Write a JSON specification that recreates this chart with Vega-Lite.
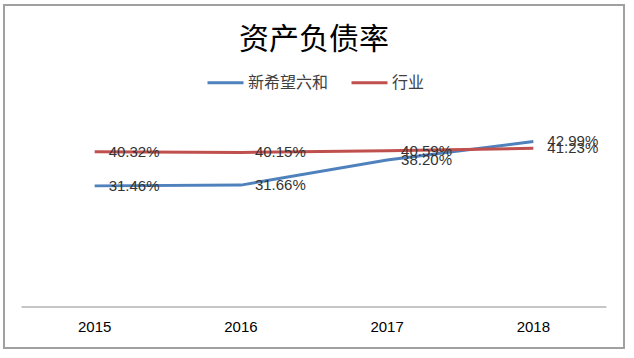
{
  "$schema": "https://vega.github.io/schema/vega-lite/v6.json",
  "autosize": "none",
  "width": 620,
  "height": 343,
  "padding": {"left": 4, "top": 5, "right": 10, "bottom": 10},
  "background": "white",
  "title": {"text": "资产负债率", "anchor": "middle", "frame": "group", "offset": -80, "baseline": "bottom", "font": "Noto Sans CJK SC", "fontSize": 30, "fontWeight": "normal", "color": "#000000"},
  "config": {"view": {"stroke": "#a0a0a0", "strokeWidth": 2}},
  "data": {"values": [
    {"year": "2015", "series": "新希望六和", "value": 0.3146},
    {"year": "2016", "series": "新希望六和", "value": 0.3166},
    {"year": "2017", "series": "新希望六和", "value": 0.3820},
    {"year": "2018", "series": "新希望六和", "value": 0.4299},
    {"year": "2015", "series": "行业", "value": 0.4032},
    {"year": "2016", "series": "行业", "value": 0.4015},
    {"year": "2017", "series": "行业", "value": 0.4059},
    {"year": "2018", "series": "行业", "value": 0.4123}
  ]},
  "resolve": {"scale": {"x": "shared", "y": "shared"}},
  "layer": [
    {
      "data": {"values": [{"start": "2015", "end": "2018"}]},
      "mark": {"type": "rule", "color": "#b3b3b3", "strokeWidth": 1.5},
      "encoding": {
        "x": {"field": "start", "type": "ordinal", "bandPosition": 0, "sort": ["2015", "2016", "2017", "2018"], "scale": {"type": "band", "domain": ["2015", "2016", "2017", "2018"], "paddingInner": 0, "paddingOuter": 0.12}, "axis": {"title": null, "domain": false, "ticks": false, "labelAngle": 0, "offset": -41, "labelFont": "Liberation Sans", "labelFontSize": 15, "labelColor": "#000000", "labelPadding": 12, "grid": false}},
        "x2": {"field": "end", "bandPosition": 1},
        "y": {"datum": 0, "type": "quantitative", "scale": {"domain": [-0.1065, 0.7844], "nice": false, "zero": false}, "axis": null}
      }
    },
    {
      "mark": {"type": "line", "strokeWidth": 3},
      "encoding": {
        "x": {"field": "year", "type": "ordinal"},
        "y": {"field": "value", "type": "quantitative"},
        "color": {"field": "series", "type": "nominal", "scale": {"domain": ["新希望六和", "行业"], "range": ["#4F81BD", "#C0504D"]},
          "legend": {"orient": "none", "legendX": 202, "legendY": 58, "direction": "horizontal", "title": null, "symbolType": "stroke", "symbolSize": 1296, "symbolStrokeWidth": 3, "labelFont": "Noto Sans CJK SC", "labelFontSize": 16, "labelColor": "#404040", "columnPadding": 16, "labelOffset": 3}}
      }
    },
    {
      "mark": {"type": "text", "align": "left", "baseline": "middle", "dx": 14, "font": "Liberation Sans", "fontSize": 15, "color": "#333333"},
      "encoding": {
        "x": {"field": "year", "type": "ordinal"},
        "y": {"field": "value", "type": "quantitative"},
        "text": {"field": "value", "type": "quantitative", "format": ".2%"}
      }
    }
  ]
}
